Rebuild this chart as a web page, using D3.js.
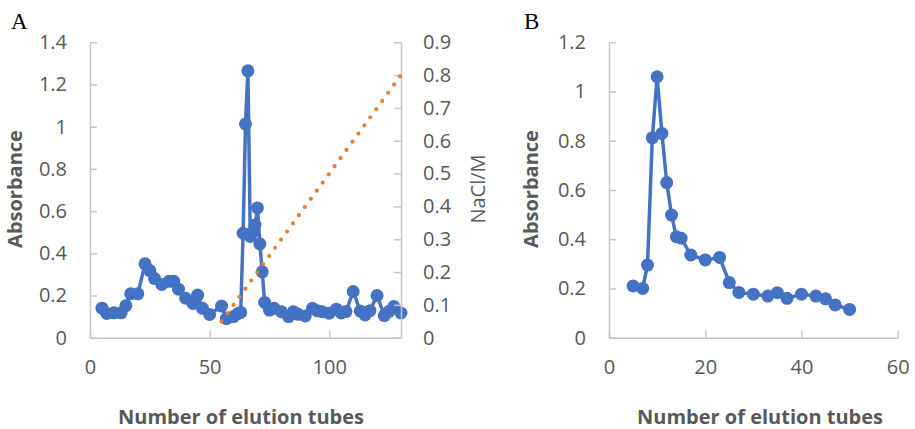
<!DOCTYPE html>
<html>
<head>
<meta charset="utf-8">
<script src="https://cdn.jsdelivr.net/npm/d3@7"></script>
<style>
  html, body { margin: 0; padding: 0; background: #fff; }
  svg { display: block; }
  text { font-family: "Open Sans", sans-serif; }
</style>
</head>
<body>
<svg id="chart" width="915" height="429"></svg>
<script>
// Panel A: ion-exchange elution profile with the NaCl gradient
const tubesA = [5,7,10,13,15,17,20,23,25,27,30,33,35,37,40,43,45,47,50,55,
  57,60,62,63,64,65,66,67,68,69,70,71,72,73,75,77,80,83,85,87,
  90,93,95,97,100,103,105,107,110,113,115,117,120,123,125,127,130];
const absorbanceA = [0.14,0.115,0.118,0.118,0.152,0.208,0.208,0.35,0.318,0.28,
  0.252,0.267,0.267,0.23,0.187,0.162,0.202,0.139,0.11,0.15,
  0.09,0.1,0.115,0.12,0.495,1.013,1.265,0.48,0.5,0.534,
  0.615,0.445,0.312,0.167,0.131,0.139,0.123,0.1,0.123,0.111,
  0.103,0.139,0.128,0.123,0.116,0.135,0.117,0.124,0.219,0.126,
  0.108,0.128,0.2,0.105,0.125,0.148,0.117];
const naclTubes = [55, 130];
const naclConc = [0.05, 0.8];

// Panel B: gel-filtration elution profile
const tubesB = [5,7,8,9,10,11,12,13,14,15,17,20,23,25,27,30,33,35,37,40,43,45,47,50];
const absorbanceB = [0.21,0.2,0.295,0.812,1.06,0.83,0.63,0.498,0.41,0.404,
  0.336,0.316,0.326,0.224,0.184,0.177,0.169,0.183,0.16,0.177,
  0.169,0.158,0.133,0.115];

// Tick values
const xTicksA = [0, 50, 100];
const yTicksA = [0, 0.2, 0.4, 0.6, 0.8, 1.0, 1.2, 1.4];
const y2TicksA = [0, 0.1, 0.2, 0.3, 0.4, 0.5, 0.6, 0.7, 0.8, 0.9];
const xTicksB = [0, 20, 40, 60];
const yTicksB = [0, 0.2, 0.4, 0.6, 0.8, 1.0, 1.2];

const BLUE = "#4472C4", ORANGE = "#ED7D31", AXIS = "#c6c6c6", LABEL = "#595959";
const fmt = d => String(+d.toFixed(1));

const svg = d3.select("#chart");
const plotTop = 42.3, plotBottom = 337.7;

function styleAxis(g) {
  g.select(".domain").attr("stroke", AXIS).attr("stroke-width", 1.5);
  g.selectAll(".tick line").attr("stroke", AXIS).attr("stroke-width", 1.5);
  g.selectAll(".tick text").attr("fill", LABEL)
    .style("font-family", "'Open Sans', sans-serif").style("font-size", "20px");
}

function panel(opts) {
  const x = d3.scaleLinear().domain(opts.xDomain).range([opts.left, opts.right]);
  const y = d3.scaleLinear().domain(opts.yDomain).range([plotBottom, plotTop]);

  // bottom axis, ticks pointing inward
  svg.append("g").attr("transform", `translate(0,${plotBottom})`)
    .call(d3.axisBottom(x).tickValues(opts.xTicks).tickSizeInner(-7).tickSizeOuter(0)
      .tickPadding(22).tickFormat(d3.format("d")))
    .call(styleAxis);

  // left axis, ticks pointing inward
  svg.append("g").attr("transform", `translate(${opts.left},0)`)
    .call(d3.axisLeft(y).tickValues(opts.yTicks).tickSizeInner(-7).tickSizeOuter(0)
      .tickPadding(23).tickFormat(fmt))
    .call(styleAxis);

  // absorbance trace
  const pts = opts.tubes.map((t, i) => [t, opts.abs[i]]);
  svg.append("path").datum(pts)
    .attr("fill", "none").attr("stroke", BLUE).attr("stroke-width", 3.5)
    .attr("stroke-linejoin", "round")
    .attr("d", d3.line().x(d => x(d[0])).y(d => y(d[1])));
  svg.append("g").selectAll("circle").data(pts).join("circle")
    .attr("cx", d => x(d[0])).attr("cy", d => y(d[1])).attr("r", 6.5)
    .attr("fill", BLUE);

  // titles
  svg.append("text").attr("transform", `translate(${opts.yTitleX},189) rotate(-90)`)
    .attr("text-anchor", "middle").attr("dominant-baseline", "middle")
    .attr("fill", LABEL).style("font-size", "20px").style("font-weight", "bold")
    .text("Absorbance");
  svg.append("text").attr("x", opts.xTitleX).attr("y", 424)
    .attr("text-anchor", "middle").attr("fill", LABEL)
    .style("font-size", "20px").style("font-weight", "bold")
    .text("Number of elution tubes");
  svg.append("text").attr("x", opts.letterX).attr("y", 29)
    .attr("fill", "#000").style("font-family", "'Liberation Serif', 'Times New Roman', serif")
    .style("font-size", "23px").text(opts.letter);

  return x;
}

// ---- Panel A ----
const xA = panel({
  xDomain: [0, 130], yDomain: [0, 1.4], left: 90, right: 401,
  xTicks: xTicksA, yTicks: yTicksA, tubes: tubesA, abs: absorbanceA,
  yTitleX: 17, xTitleX: 241, letterX: 11, letter: "A"
});

// secondary axis: NaCl concentration
const y2A = d3.scaleLinear().domain([0, 0.9]).range([plotBottom, plotTop]);
svg.append("g").attr("transform", "translate(401,0)")
  .call(d3.axisRight(y2A).tickValues(y2TicksA).tickSizeInner(-7).tickSizeOuter(0)
    .tickPadding(22).tickFormat(fmt))
  .call(styleAxis);

svg.append("text").attr("transform", "translate(480,189) rotate(-90)")
  .attr("text-anchor", "middle").attr("dominant-baseline", "middle")
  .attr("fill", LABEL).style("font-size", "20px").text("NaCl/M");

// NaCl gradient, round-dotted
svg.append("path").datum(naclTubes.map((t, i) => [t, naclConc[i]]))
  .attr("fill", "none").attr("stroke", ORANGE).attr("stroke-width", 4.2)
  .attr("stroke-linecap", "round").attr("stroke-dasharray", "0 10.1")
  .attr("d", d3.line().x(d => xA(d[0])).y(d => y2A(d[1])));

// ---- Panel B ----
panel({
  xDomain: [0, 60], yDomain: [0, 1.2], left: 609, right: 897.7,
  xTicks: xTicksB, yTicks: yTicksB, tubes: tubesB, abs: absorbanceB,
  yTitleX: 533, xTitleX: 760, letterX: 524, letter: "B"
});
</script>
</body>
</html>
